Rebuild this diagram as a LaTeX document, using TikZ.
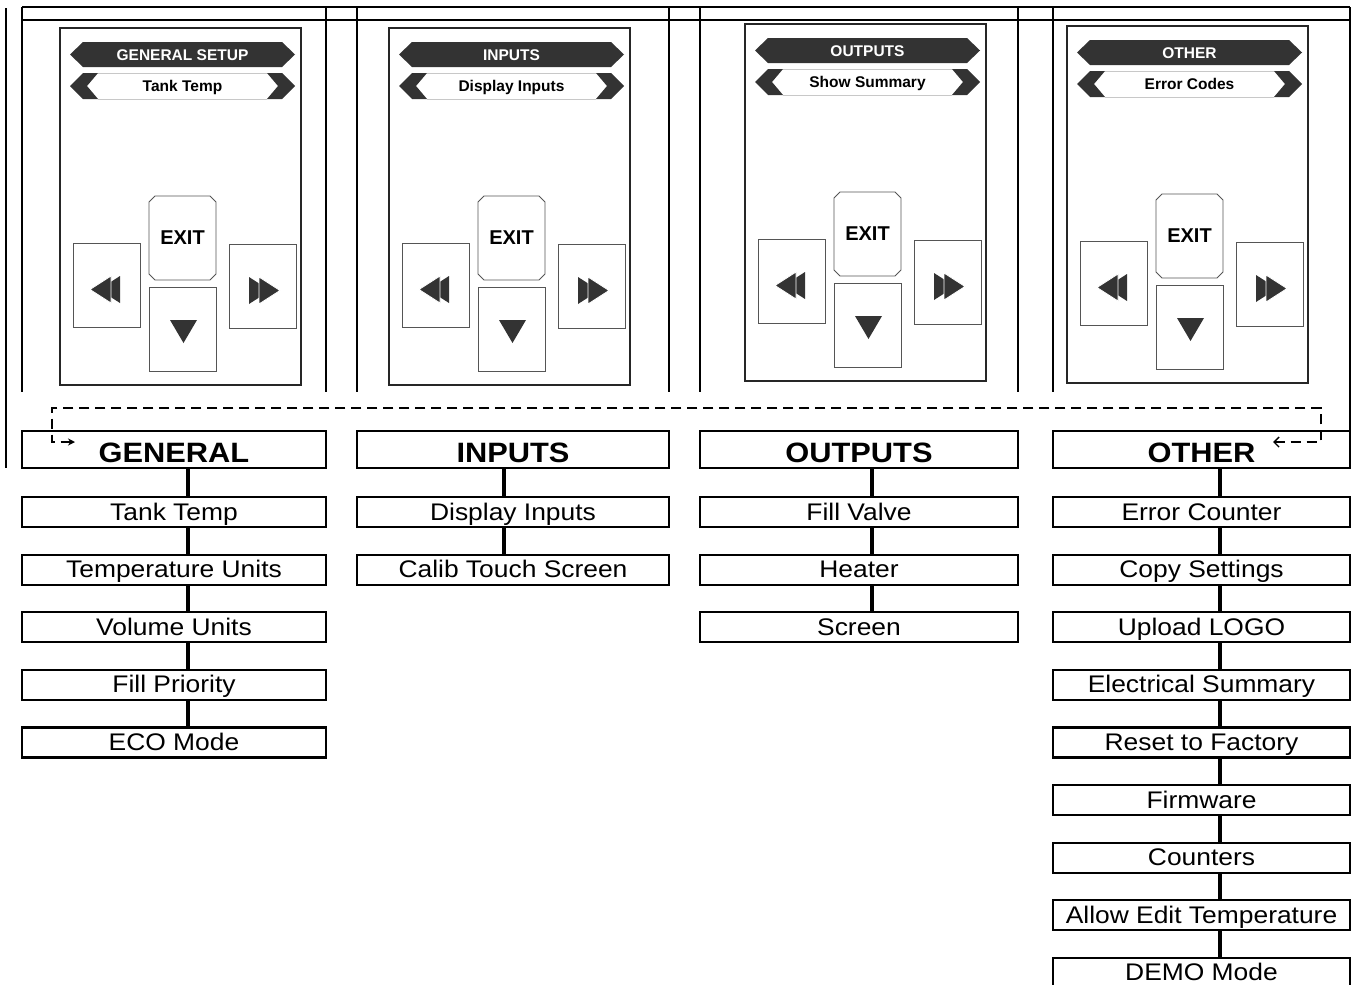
\documentclass[tikz,border=0pt]{standalone}
\usepackage{fontspec}
\setmainfont{Liberation Sans}
\newfontfamily\widesans{Liberation Sans}[FakeStretch=1.1]
\usetikzlibrary{positioning,shapes.misc,arrows.meta}
\definecolor{panelgray}{HTML}{333333}
\definecolor{btngray}{HTML}{555555}
\definecolor{rulegray}{HTML}{C8C8C8}

\tikzset{
  frame/.style={line width=2.2pt},
  head/.style={draw, line width=2.2pt, minimum width=#1, minimum height=37pt, inner sep=0pt, outer sep=0pt,
    text height=25pt, text depth=0pt, font=\widesans\bfseries\fontsize{28}{30}\selectfont},
  item/.style={draw, line width=2.2pt, minimum width=#1, minimum height=30pt, inner sep=0pt, outer sep=0pt,
    text height=16pt, text depth=0pt, font=\widesans\fontsize{24}{26}\selectfont},
  spine/.style={line width=4pt},
  screen/.style={draw=black!85, line width=2.2pt, minimum width=241pt, minimum height=357pt, inner sep=0pt},
  padkey/.style={draw=btngray, line width=0.8pt, chamfered rectangle, chamfered rectangle xsep=3pt,
    chamfered rectangle ysep=3pt, minimum width=67pt, minimum height=84pt, inner sep=0pt},
  bartext/.style={inner sep=0pt, text height=11pt, text depth=0pt, font=\bfseries\fontsize{15.5}{17}\selectfont},
  loopline/.style={line width=2pt, dash pattern=on 10pt off 6pt,
    {Straight Barb[length=5pt,width=10pt,line width=1.4pt]}-{Stealth[length=7pt,width=7pt]}}
}

\begin{document}
\begin{tikzpicture}[x=1pt, y=-1pt, node distance=27.6pt]
  \useasboundingbox (0,0) rectangle (1352,985);

  % Frames round the screens
  \draw[frame] (22,7) -- (1350,7) (22,20) -- (1350,20);
  \foreach \x in {22,326,357,669,700,1018,1053}
    \draw[frame] (\x,7) -- (\x,392);
  \draw[frame] (1350,7) -- (1350,468);
  \draw[frame] (6,8) -- (6,468);

  % Screens
  \foreach \px/\py/\ttl/\sub/\k in {60/28/GENERAL SETUP/Tank Temp/a, 389/28/INPUTS/Display Inputs/b,
      745/24/OUTPUTS/Show Summary/c, 1067/26/OTHER/Error Codes/d}{
    \begin{scope}[shift={(\px,\py)}]
      \node[screen] (screen\k) at (120.5,178.5) {};
      \fill[panelgray] (10,26.5) -- (23,14) -- (222,14) -- (235,26.5) -- (222,39) -- (23,39) -- cycle;
      \node[bartext, text=white] (title\k) at (122.5,26.5) {\ttl};
      \draw[rulegray, line width=0.8pt] (38,45) -- (207,45) (38,71) -- (207,71);
      \fill[panelgray] (10,58) -- (23,45) -- (38,45) -- (27,58) -- (38,71) -- (23,71) -- cycle;
      \fill[panelgray] (235,58) -- (222,45) -- (207,45) -- (218,58) -- (207,71) -- (222,71) -- cycle;
      \node[bartext] (menu\k) at (122.5,58) {\sub};
      % Keys
      \node[padkey] (back\k) at (46.5,257.5) {};
      \node[padkey, font=\bfseries\fontsize{20}{22}\selectfont] (exit\k) at (122.5,210) {EXIT};
      \node[padkey] (down\k) at (122.5,301.5) {};
      \node[padkey] (next\k) at (202.5,258.5) {};
      \fill[panelgray] (60,248) -- (60,275) -- (39,261.5) -- cycle;
      \fill[panelgray, draw=white, line width=0.8pt] (51,248) -- (51,275) -- (30,261.5) -- cycle;
      \fill[panelgray] (189,249) -- (189,276) -- (210,262.5) -- cycle;
      \fill[panelgray, draw=white, line width=0.8pt] (199,249) -- (199,276) -- (220,262.5) -- cycle;
      \fill[panelgray] (110,292) -- (137,292) -- (123.5,315) -- cycle;
    \end{scope}
  }

  % Menus
  \node[head=304pt] (Gen) at (174,449.5) {GENERAL};
  \node[head=312pt] (Inp) at (513,449.5) {INPUTS};
  \node[head=318pt] (Out) at (859,449.5) {OUTPUTS};
  \node[head=297pt] (Oth) at (1201.5,449.5) {OTHER};

  \node[item=304pt, below=29pt of Gen] (TankTemp) {Tank Temp};
  \node[item=304pt, below=of TankTemp] (TempUnits) {Temperature Units};
  \node[item=304pt, below=of TempUnits] (VolUnits) {Volume Units};
  \node[item=304pt, below=of VolUnits] (FillPrio) {Fill Priority};
  \node[item=304pt, below=of FillPrio] (EcoMode) {ECO Mode};

  \node[item=312pt, below=29pt of Inp] (DispIn) {Display Inputs};
  \node[item=312pt, below=of DispIn] (CalTouch) {Calib Touch Screen};

  \node[item=318pt, below=29pt of Out] (FillValve) {Fill Valve};
  \node[item=318pt, below=of FillValve] (Heater) {Heater};
  \node[item=318pt, below=of Heater] (ScreenOut) {Screen};

  \node[item=297pt, below=29pt of Oth] (ErrCount) {Error Counter};
  \node[item=297pt, below=of ErrCount] (CopySet) {Copy Settings};
  \node[item=297pt, below=of CopySet] (UpLogo) {Upload LOGO};
  \node[item=297pt, below=of UpLogo] (ElecSum) {Electrical Summary};
  \node[item=297pt, below=of ElecSum] (ResetFac) {Reset to Factory};
  \node[item=297pt, below=of ResetFac] (Firmware) {Firmware};
  \node[item=297pt, below=of Firmware] (Counters) {Counters};
  \node[item=297pt, below=of Counters] (AllowEdit) {Allow Edit Temperature};
  \node[item=297pt, below=of AllowEdit] (DemoMode) {DEMO Mode};

  % Links
  \foreach \a/\b/\s in {Gen/TankTemp/14, TankTemp/TempUnits/14, TempUnits/VolUnits/14,
      VolUnits/FillPrio/14, FillPrio/EcoMode/14, Inp/DispIn/-9, DispIn/CalTouch/-9,
      Out/FillValve/13, FillValve/Heater/13, Heater/ScreenOut/13,
      Oth/ErrCount/18.5, ErrCount/CopySet/18.5, CopySet/UpLogo/18.5, UpLogo/ElecSum/18.5,
      ElecSum/ResetFac/18.5, ResetFac/Firmware/18.5, Firmware/Counters/18.5,
      Counters/AllowEdit/18.5, AllowEdit/DemoMode/18.5}
    \draw[spine] ([xshift=\s]\a.south) -- ([xshift=\s]\b.north);

  % Wrap round
  \coordinate (loopA) at (1273,442);
  \coordinate (loopB) at (75,442);
  \draw[loopline] (loopA) -- (1321,442) |- (52,408) |- (loopB);
\end{tikzpicture}
\end{document}
